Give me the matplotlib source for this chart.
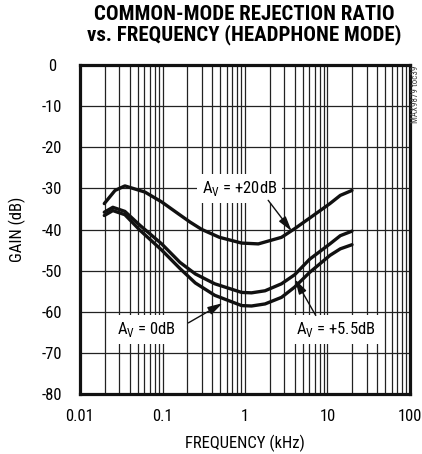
import numpy as np
import matplotlib
matplotlib.use("Agg")
import matplotlib.pyplot as plt
from matplotlib.ticker import LogLocator, NullFormatter, FixedLocator

plt.rcParams['font.family'] = ['Roboto Condensed', 'DejaVu Sans']
plt.rcParams['font.stretch'] = 'condensed'

# frequency (kHz) / gain (dB)
f_20 = [0.0197, 0.0266, 0.035, 0.0613, 0.0978, 0.156, 0.216, 0.3, 0.49, 0.91, 1.45, 2.77, 4.0, 6.1, 10.7, 14.3, 19.8]
g_20 = [-33.7, -30.5, -29.4, -30.9, -33.3, -36.2, -38.2, -40.0, -41.9, -43.3, -43.5, -41.9, -39.8, -37.2, -33.7, -31.7, -30.5]

f_55 = [0.0197, 0.025, 0.035, 0.0534, 0.0978, 0.163, 0.25, 0.43, 0.91, 1.2, 1.75, 2.77, 4.0, 6.1, 10.7, 14.3, 19.8]
g_55 = [-35.8, -34.6, -35.6, -39.0, -43.5, -48.0, -50.8, -53.2, -55.3, -55.4, -54.9, -53.2, -51.0, -47.2, -43.5, -41.5, -40.4]

f_0 = [0.0197, 0.025, 0.035, 0.0534, 0.0978, 0.163, 0.25, 0.43, 0.91, 1.2, 1.75, 2.77, 4.0, 6.1, 10.7, 14.3, 19.8]
g_0 = [-36.6, -35.4, -36.4, -40.2, -45.0, -49.5, -53.0, -56.0, -58.5, -58.6, -58.1, -56.5, -54.0, -50.4, -46.3, -44.7, -43.7]

x_ticks = [0.01, 0.1, 1, 10, 100]
x_labels = ['0.01', '0.1', '1', '10', '100']
y_ticks = [0, -10, -20, -30, -40, -50, -60, -70, -80]

fig = plt.figure(figsize=(4.22, 4.54), dpi=100)
ax = fig.add_axes([80/422, 1 - 394/454, 330/422, 329/454])

ax.set_xscale('log')
ax.set_xlim(0.01, 100)
ax.set_ylim(-80, 0)

# grid
ax.xaxis.set_major_locator(FixedLocator(x_ticks))
ax.xaxis.set_minor_locator(LogLocator(base=10, subs=np.arange(2, 10)))
ax.xaxis.set_minor_formatter(NullFormatter())
ax.set_xticks(x_ticks)
ax.set_xticklabels(x_labels)
ax.set_yticks(y_ticks)
ax.set_yticklabels([str(v) for v in y_ticks])
ax.grid(True, which='both', axis='x', color='#222222', lw=0.9)
ax.grid(True, which='major', axis='y', color='#222222', lw=0.9)
ax.tick_params(which='both', length=0, labelsize=12)
ax.tick_params(axis='x', pad=11)
ax.tick_params(axis='y', pad=20)
for lab in ax.get_yticklabels():
    lab.set_ha('center')
for s in ax.spines.values():
    s.set_linewidth(2.3)
    s.set_color('#111111')
    s.set_zorder(5)

for f, g in [(f_20, g_20), (f_55, g_55), (f_0, g_0)]:
    ax.plot(f, g, color='#111111', lw=2.4, solid_capstyle='round', solid_joinstyle='round', zorder=3)

box = dict(boxstyle='square,pad=0.3', fc='white', ec='none')
arrow = dict(arrowstyle='-|>,head_length=0.9,head_width=0.25', color='#111111', lw=1.0, shrinkA=0, shrinkB=0)

ax.text(0.86, -30, r'A$_\mathregular{V}$ = +20dB', fontsize=12, ha='center', va='center', bbox=box, zorder=4)
ax.annotate('', xy=(3.68, -40.4), xytext=(1.91, -32.9), arrowprops=arrow, zorder=4)

ax.text(0.064, -64.2, r'A$_\mathregular{V}$ = 0dB', fontsize=12, ha='center', va='center', bbox=box, zorder=4)
ax.annotate('', xy=(0.537, -57.9), xytext=(0.206, -62.7), arrowprops=arrow, zorder=4)

ax.text(12.7, -64.2, r'A$_\mathregular{V}$ = +5.5dB', fontsize=12, ha='center', va='center', bbox=box, zorder=4)
ax.annotate('', xy=(4.04, -52.1), xytext=(7.2, -60.9), arrowprops=arrow, zorder=4)

fig.text(244.5/422, 1 - 14.5/454, 'COMMON-MODE REJECTION RATIO', ha='center', va='center',
         fontsize=15, fontweight='black')
fig.text(244.5/422, 1 - 34.5/454, 'vs. FREQUENCY (HEADPHONE MODE)', ha='center', va='center',
         fontsize=15, fontweight='black')
fig.text(17.5/422, 1 - 229/454, 'GAIN (dB)', rotation=90, ha='center', va='center', fontsize=12)
fig.text(245/422, 1 - 443.5/454, 'FREQUENCY (kHz)', ha='center', va='center', fontsize=12)
fig.text(415/422, 1 - 94/454, 'MAX9879 toc39', rotation=90, ha='center', va='center', fontsize=6.5, color='#444444')

fig.savefig('out.png', dpi=100)
